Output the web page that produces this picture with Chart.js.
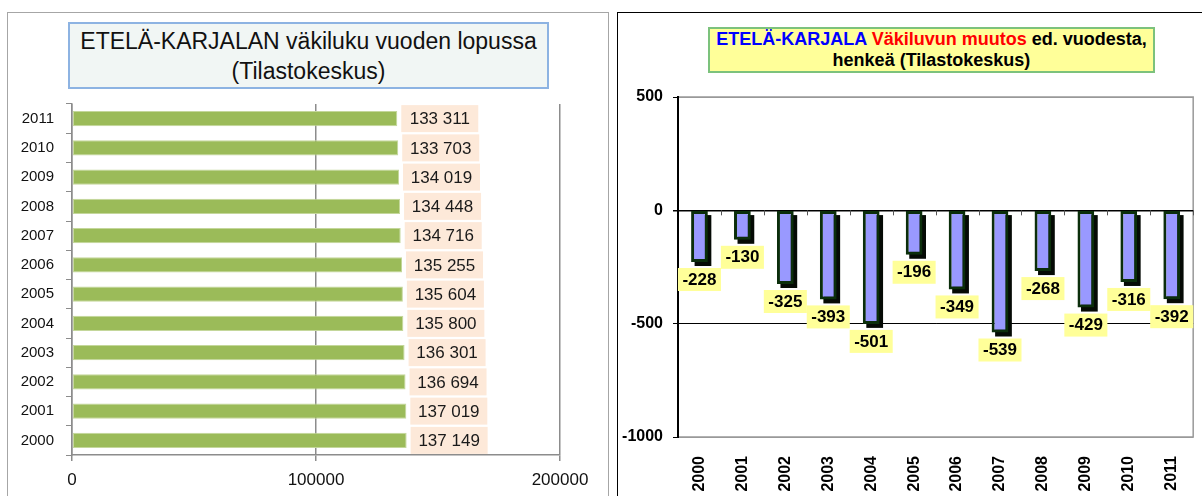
<!DOCTYPE html>
<html>
<head>
<meta charset="utf-8">
<script src="https://cdn.jsdelivr.net/npm/chart.js@4"></script>
<style>
  body { margin: 0; background: #fff; width: 1202px; height: 496px; overflow: hidden; position: relative;
         font-family: "Liberation Sans", Arial, sans-serif; }
  .frame { position: absolute; box-sizing: border-box; }
  #leftFrame { left: 7px; top: 12px; width: 602px; height: 500px; border: 1px solid #a6a6a6; }
  #rightFrame { left: 617px; top: 12px; width: 600px; height: 500px; border: 1px solid #000; }
  .wrap { position: absolute; }
  #leftWrap { left: 8px; top: 13px; width: 599px; height: 483px; }
  #rightWrap { left: 618px; top: 13px; width: 584px; height: 483px; }
  .title { position: absolute; box-sizing: border-box; text-align: center; white-space: nowrap; }
  #leftTitle { left: 68px; top: 22px; width: 481px; height: 67px; border: 2px solid #8db3e2;
               background: #f1f6f4; color: #111; font-size: 23px; line-height: 30px; padding-top: 2px; }
  #rightTitle { left: 708px; top: 27px; width: 447px; height: 46px; border: 2px solid #7cc27c;
                background: #ffff99; color: #000; font-size: 18px; font-weight: bold; line-height: 21px; padding-top: 0px; }
  .blue { color: #0000ff; }
  .red { color: #ff0000; }
</style>
</head>
<body>
<div class="frame" id="leftFrame"></div>
<div class="frame" id="rightFrame"></div>
<div class="wrap" id="leftWrap"><canvas id="popChart"></canvas></div>
<div class="wrap" id="rightWrap"><canvas id="chgChart"></canvas></div>
<div class="title" id="leftTitle">ETELÄ-KARJALAN väkiluku vuoden lopussa<br>(Tilastokeskus)</div>
<div class="title" id="rightTitle"><span class="blue">ETELÄ-KARJALA</span> <span class="red">Väkiluvun muutos</span> ed. vuodesta,<br>henkeä (Tilastokeskus)</div>
<script>
var years = ['2000','2001','2002','2003','2004','2005','2006','2007','2008','2009','2010','2011'];
var population = [137149, 137019, 136694, 136301, 135800, 135604, 135255, 134716, 134448, 134019, 133703, 133311];
var change = [-228, -130, -325, -393, -501, -196, -349, -539, -268, -429, -316, -392];
var popTicks = [0, 100000, 200000];
var chgTicks = [-1000, -500, 0, 500];

Chart.defaults.font.family = '"Liberation Sans", Arial, sans-serif';

function spaced(v) {
  return String(v).replace(/\B(?=(\d{3})+(?!\d))/g, ' ');
}

// peach value boxes to the right of each bar
var popLabels = {
  id: 'popLabels',
  afterDatasetsDraw: function(chart) {
    var ctx = chart.ctx;
    var meta = chart.getDatasetMeta(0);
    ctx.save();
    ctx.font = '17px "Liberation Sans", Arial, sans-serif';
    ctx.textAlign = 'center';
    ctx.textBaseline = 'middle';
    meta.data.forEach(function(el, i) {
      ctx.fillStyle = '#fde9d9';
      ctx.fillRect(el.x + 4, el.y - 13.5, 77, 27);
      ctx.fillStyle = '#1a1a1a';
      ctx.fillText(spaced(population[i]), el.x + 42.5, el.y + 1);
    });
    ctx.restore();
  }
};

// plot frame, small ticks on the zero line and the dark bar shadows
var chgFrame = {
  id: 'chgFrame',
  beforeDraw: function(chart) {
    var ctx = chart.ctx, a = chart.chartArea;
    ctx.save();
    ctx.strokeStyle = '#999';
    ctx.lineWidth = 1.5;
    ctx.strokeRect(a.left, a.top, a.right - a.left, a.bottom - a.top);
    ctx.restore();
  },
  beforeDatasetsDraw: function(chart) {
    var ctx = chart.ctx, xs = chart.scales.x, ys = chart.scales.y;
    var y0 = ys.getPixelForValue(0);
    var step = (xs.right - xs.left) / years.length;
    ctx.save();
    ctx.strokeStyle = '#555';
    ctx.lineWidth = 1;
    for (var i = 1; i <= years.length; i++) {
      var x = Math.round(xs.left + i * step) + 0.5;
      ctx.beginPath();
      ctx.moveTo(x, y0);
      ctx.lineTo(x, y0 + 5);
      ctx.stroke();
    }
    ctx.fillStyle = '#050a05';
    chart.getDatasetMeta(0).data.forEach(function(el) {
      var top = Math.min(el.y, el.base), h = Math.abs(el.y - el.base);
      ctx.fillRect(el.x - el.width / 2 + 3.5, top + 4, el.width, h);
    });
    ctx.restore();
  }
};

// yellow value boxes below each bar
var chgLabels = {
  id: 'chgLabels',
  afterDatasetsDraw: function(chart) {
    var ctx = chart.ctx;
    var meta = chart.getDatasetMeta(0);
    ctx.save();
    ctx.font = 'bold 17px "Liberation Sans", Arial, sans-serif';
    ctx.textAlign = 'center';
    ctx.textBaseline = 'middle';
    meta.data.forEach(function(el, i) {
      var t = String(change[i]);
      var w = ctx.measureText(t).width + 9;
      ctx.fillStyle = '#ffff99';
      ctx.fillRect(el.x - w / 2, el.y + 6, w, 23);
      ctx.fillStyle = '#000';
      ctx.fillText(t, el.x, el.y + 18);
    });
    ctx.restore();
  }
};

new Chart(document.getElementById('popChart'), {
  type: 'bar',
  data: {
    labels: years,
    datasets: [{
      data: population,
      backgroundColor: '#9bbb59',
      borderColor: '#c4d79b',
      borderWidth: 1,
      borderSkipped: false,
      barPercentage: 0.52,
      categoryPercentage: 1
    }]
  },
  options: {
    indexAxis: 'y',
    responsive: true,
    maintainAspectRatio: false,
    animation: false,
    layout: { padding: { top: 91, right: 47, left: 0, bottom: 0 } },
    plugins: { legend: { display: false }, tooltip: { enabled: false } },
    scales: {
      x: {
        min: popTicks[0],
        max: popTicks[popTicks.length - 1],
        afterBuildTicks: function(s) { s.ticks = popTicks.map(function(v) { return { value: v }; }); },
        ticks: { callback: function(v) { return String(v); }, color: '#111', font: { size: 17 }, padding: 9, maxRotation: 0 },
        grid: { color: '#8c8c8c', lineWidth: 1.5, tickLength: 6, tickColor: '#8c8c8c' },
        border: { color: '#8c8c8c', width: 1.5 },
        afterFit: function(s) { s.height = 41; }
      },
      y: {
        reverse: true,
        ticks: { color: '#111', font: { size: 15 }, padding: 12 },
        grid: { offset: true, drawOnChartArea: false, tickLength: 6, color: '#8c8c8c' },
        border: { color: '#8c8c8c', width: 1.5 },
        afterFit: function(s) { s.width = 64; }
      }
    }
  },
  plugins: [popLabels]
});

new Chart(document.getElementById('chgChart'), {
  type: 'bar',
  data: {
    labels: years,
    datasets: [{
      data: change,
      backgroundColor: '#9999ff',
      borderColor: '#0b2e0b',
      borderWidth: 3,
      borderSkipped: false,
      barPercentage: 0.39,
      categoryPercentage: 1
    }]
  },
  options: {
    responsive: true,
    maintainAspectRatio: false,
    animation: false,
    layout: { padding: { top: 84, right: 2, left: 0, bottom: 0 } },
    plugins: { legend: { display: false }, tooltip: { enabled: false } },
    scales: {
      x: {
        grid: { display: false },
        border: { display: false },
        ticks: { minRotation: 90, maxRotation: 90, color: '#000', font: { size: 16, weight: 'bold' }, padding: 11 },
        afterFit: function(s) { s.height = 59; }
      },
      y: {
        min: chgTicks[0],
        max: chgTicks[chgTicks.length - 1],
        afterBuildTicks: function(s) { s.ticks = chgTicks.map(function(v) { return { value: v }; }); },
        ticks: { callback: function(v) { return String(v); }, color: '#000', font: { size: 16, weight: 'bold' }, padding: 10 },
        grid: {
          color: function(c) { return (c.tick && (c.tick.value === 0 || c.tick.value === -500)) ? '#000' : '#999'; },
          lineWidth: function(c) { return (c.tick && c.tick.value === 0) ? 1.5 : 1; },
          tickColor: '#000',
          tickLength: 5
        },
        border: { color: '#000', width: 2 },
        afterFit: function(s) { s.width = 60; }
      }
    }
  },
  plugins: [chgFrame, chgLabels]
});
</script>
</body>
</html>
